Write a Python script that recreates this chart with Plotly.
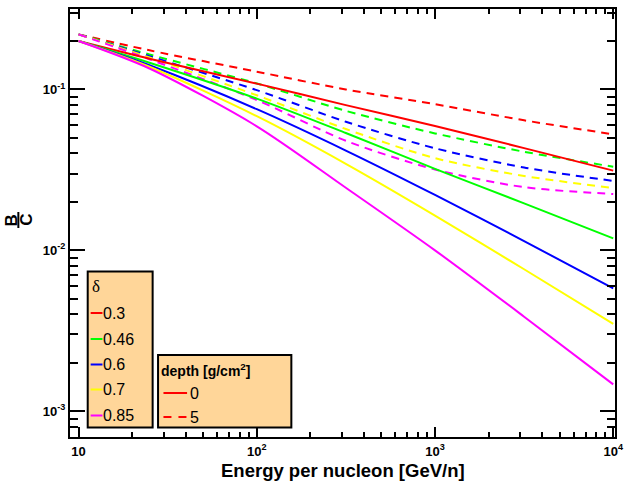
import plotly.graph_objects as go

# ---------------- data ----------------
energy = [10, 25, 100, 316, 1000, 3162, 10000]  # GeV/n
deltas = ["0.3", "0.46", "0.6", "0.7", "0.85"]
colors = ["#FF0000", "#00FF00", "#0000FF", "#FFFF00", "#FF00FF"]

# depth 0 g/cm^2 (solid)
bc_depth0_03 = [0.200, 0.1552, 0.1087, 0.0799, 0.0592, 0.0432, 0.0313]
bc_depth0_046 = [0.200, 0.1466, 0.0877, 0.0536, 0.0321, 0.0196, 0.01186]
bc_depth0_06 = [0.200, 0.1413, 0.0754, 0.0417, 0.0221, 0.01142, 0.0058]
bc_depth0_07 = [0.200, 0.1383, 0.0682, 0.0345, 0.01646, 0.00763, 0.00349]
bc_depth0_085 = [0.200, 0.135, 0.059, 0.0245, 0.0100, 0.00387, 0.00147]

# depth 5 g/cm^2 (dashed)
bc_depth5_03 = [0.220, 0.175, 0.129, 0.100, 0.081, 0.0643, 0.0526]
bc_depth5_046 = [0.220, 0.165, 0.109, 0.0736, 0.0533, 0.041, 0.0331]
bc_depth5_06 = [0.220, 0.161, 0.099, 0.063, 0.0431, 0.0327, 0.027]
bc_depth5_07 = [0.220, 0.158, 0.092, 0.0568, 0.0374, 0.029, 0.0244]
bc_depth5_085 = [0.220, 0.154, 0.086, 0.048, 0.0318, 0.0247, 0.0224]

depth0 = [bc_depth0_03, bc_depth0_046, bc_depth0_06, bc_depth0_07, bc_depth0_085]
depth5 = [bc_depth5_03, bc_depth5_046, bc_depth5_06, bc_depth5_07, bc_depth5_085]

x_tickvals = [10, 100, 1000, 10000]
x_ticktext = ["10", "10<sup>2</sup>", "10<sup>3</sup>", "10<sup>4</sup>"]
y_tickvals = [1e-3, 1e-2, 1e-1]
y_ticktext = ["10<sup>-3</sup>", "10<sup>-2</sup>", "10<sup>-1</sup>"]

depth_labels = ["0", "5"]

# ---------------- layout geometry ----------------
W, H = 631, 482
L, R, T, B = 70, 7, 9, 45
PW, PH = W - L - R, H - T - B


def px(xp):
    return (xp - L) / PW


def py(yp):
    return (H - B - yp) / PH


FONT = "Liberation Sans, Arial, Helvetica, sans-serif"

fig = go.Figure()
for vals, c, d in zip(depth5, colors, deltas):
    fig.add_trace(go.Scatter(x=energy, y=vals, mode="lines", showlegend=False,
                             line=dict(color=c, width=2, dash="8px,6px", shape="spline", smoothing=0.8)))
for vals, c, d in zip(depth0, colors, deltas):
    fig.add_trace(go.Scatter(x=energy, y=vals, mode="lines", showlegend=False, name=d,
                             line=dict(color=c, width=2, shape="spline", smoothing=0.8)))

minor_x = [k * 10 ** n for n in range(0, 4) for k in range(2, 10)]
minor_y = [k * 10.0 ** n for n in range(-4, 0) for k in range(2, 10)]

axis_common = dict(showline=True, linecolor="black", linewidth=2, mirror="ticks",
                   ticks="inside", tickcolor="black", tickwidth=2, showgrid=False,
                   zeroline=False, tickfont=dict(family=FONT, size=13, color="black"))

fig.update_xaxes(type="log", range=[0.952, 4.010], tickvals=x_tickvals,
                 ticktext=["<b>%s</b>" % t for t in x_ticktext], ticklen=10,
                 ticklabelstandoff=1,
                 minor=dict(tickvals=minor_x, ticks="inside", ticklen=5, tickcolor="black", tickwidth=2),
                 **axis_common)
fig.update_yaxes(type="log", range=[-3.16, -0.50], tickvals=y_tickvals,
                 ticktext=["<b>%s</b>" % t for t in y_ticktext], ticklen=15,
                 minor=dict(tickvals=minor_y, ticks="inside", ticklen=8, tickcolor="black", tickwidth=2),
                 **axis_common)

shapes = []
annotations = []

# x-axis title
annotations.append(dict(xref="paper", yref="paper", x=0.5, y=py(470.5),
                        text="<b>Energy per nucleon [GeV/n]</b>", showarrow=False,
                        xanchor="center", yanchor="middle",
                        font=dict(family=FONT, size=18.5, color="black")))

# y-axis title as fraction B/C (rotated)
annotations.append(dict(xref="paper", yref="paper", x=px(10.5), y=py(220), text="<b>B</b>",
                        textangle=-90, showarrow=False, font=dict(family=FONT, size=17, color="black"),
                        xanchor="center", yanchor="middle"))
annotations.append(dict(xref="paper", yref="paper", x=px(25), y=py(220), text="<b>C</b>",
                        textangle=-90, showarrow=False, font=dict(family=FONT, size=17, color="black"),
                        xanchor="center", yanchor="middle"))
shapes.append(dict(type="line", xref="paper", yref="paper", x0=px(17.5), x1=px(17.5),
                   y0=py(212), y1=py(228), line=dict(color="black", width=2)))

# legend 1 (delta)
LEG_FILL = "#FFD699"
shapes.append(dict(type="rect", xref="paper", yref="paper", x0=px(88), x1=px(154),
                   y0=py(271.5), y1=py(427.5), fillcolor=LEG_FILL, line=dict(color="black", width=2)))
annotations.append(dict(xref="paper", yref="paper", x=px(90), y=py(286), text="δ",
                        showarrow=False, xanchor="left", yanchor="middle",
                        font=dict(family="Liberation Serif, DejaVu Serif, serif", size=17, color="black")))
ys1 = [313, 339, 364.5, 389.5, 415.5]
for c, d, yy in zip(colors, deltas, ys1):
    shapes.append(dict(type="line", xref="paper", yref="paper", x0=px(91), x1=px(103),
                       y0=py(yy), y1=py(yy), line=dict(color=c, width=2)))
    annotations.append(dict(xref="paper", yref="paper", x=px(102), y=py(yy), text=d,
                            showarrow=False, xanchor="left", yanchor="middle",
                            font=dict(family=FONT, size=16, color="black")))

# legend 2 (depth)
shapes.append(dict(type="rect", xref="paper", yref="paper", x0=px(159.5), x1=px(295),
                   y0=py(355), y1=py(427.5), fillcolor=LEG_FILL, line=dict(color="black", width=2)))
annotations.append(dict(xref="paper", yref="paper", x=px(160), y=py(369.5),
                        text="<b>depth [g/cm<sup>2</sup>]</b>",
                        showarrow=False, xanchor="left", yanchor="middle",
                        font=dict(family=FONT, size=14, color="black")))
ys2 = [393, 417]
dashes = ["solid", "8px,7px"]
for lab, dsh, yy in zip(depth_labels, dashes, ys2):
    shapes.append(dict(type="line", xref="paper", yref="paper", x0=px(165), x1=px(189),
                       y0=py(yy), y1=py(yy), line=dict(color="#FF0000", width=2, dash=dsh)))
    annotations.append(dict(xref="paper", yref="paper", x=px(190), y=py(yy), text=lab,
                            showarrow=False, xanchor="left", yanchor="middle",
                            font=dict(family=FONT, size=16, color="black")))

fig.update_layout(width=W, height=H, margin=dict(l=L, r=R, t=T, b=B),
                  paper_bgcolor="white", plot_bgcolor="white",
                  shapes=shapes, annotations=annotations, showlegend=False,
                  font=dict(family=FONT, color="black"))

fig.write_html("out.html")
